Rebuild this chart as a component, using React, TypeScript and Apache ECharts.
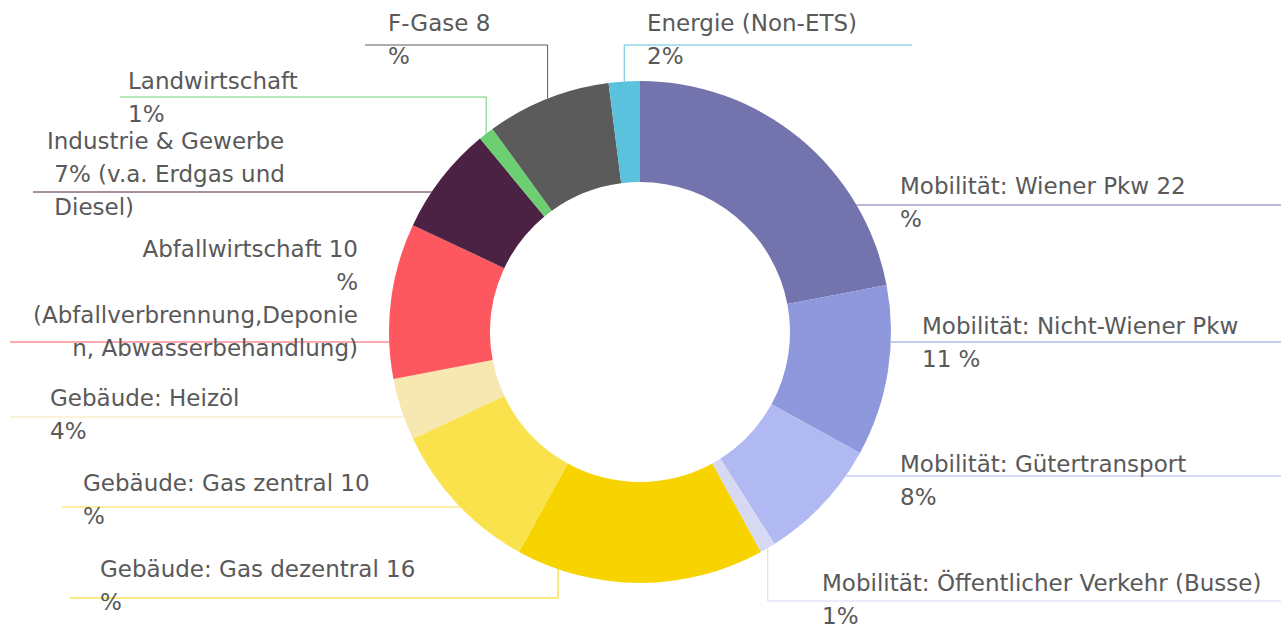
import React, { useEffect, useRef } from "react";
import * as echarts from "echarts";

// ---- data ----
const categories = [
  "Mobilität: Wiener Pkw",
  "Mobilität: Nicht-Wiener Pkw",
  "Mobilität: Gütertransport",
  "Mobilität: Öffentlicher Verkehr (Busse)",
  "Gebäude: Gas dezentral",
  "Gebäude: Gas zentral",
  "Gebäude: Heizöl",
  "Abfallwirtschaft",
  "Industrie & Gewerbe",
  "Landwirtschaft",
  "F-Gase",
  "Energie (Non-ETS)",
];
const values = [22, 11, 8, 1, 16, 10, 4, 10, 7, 1, 8, 2];
const labelTemplates = [
  "{n} {v}\n%",
  "{n}\n{v} %",
  "{n}\n{v}%",
  "{n}\n{v}%",
  "{n} {v}\n%",
  "{n} {v}\n%",
  "{n}\n{v}%",
  "{n} {v}\n%\n(Abfallverbrennung,Deponie\nn, Abwasserbehandlung)",
  "{n}\n {v}% (v.a. Erdgas und\n Diesel)",
  "{n}\n{v}%",
  "{n} {v}\n%",
  "{n}\n{v}%",
];
const colors = [
  "#7373ad",
  "#8f98dc",
  "#b1b9f3",
  "#d7d9f2",
  "#f7d400",
  "#fae24c",
  "#f6e8b0",
  "#fd5760",
  "#4b2144",
  "#6ccf72",
  "#5b5b5b",
  "#5bc2de",
];

// ---- layout (label placement) ----
const CX = 640;
const CY = 332;
const R = 251;
const R0 = 150;
type L = { x: number; y: number; align: string; lineY: number; kind: "h" | "v"; end: number; side: "l" | "r"; vx?: number };
const labelLayouts: L[] = [
  { x: 900, y: 169, align: "left", lineY: 205, kind: "h", end: 1281, side: "r" },
  { x: 922, y: 309, align: "left", lineY: 342, kind: "h", end: 1281, side: "r" },
  { x: 900, y: 447, align: "left", lineY: 476, kind: "h", end: 1281, side: "r" },
  { x: 822, y: 566, align: "left", lineY: 601, kind: "v", end: 1281, side: "r" },
  { x: 100, y: 552, align: "left", lineY: 598, kind: "v", end: 70, side: "l", vx: 558 },
  { x: 83, y: 466, align: "left", lineY: 507, kind: "h", end: 62, side: "l" },
  { x: 50, y: 381, align: "left", lineY: 417, kind: "h", end: 10, side: "l" },
  { x: 358, y: 232, align: "right", lineY: 342, kind: "h", end: 10, side: "l" },
  { x: 47, y: 124, align: "left", lineY: 192, kind: "h", end: 33, side: "l" },
  { x: 128, y: 64, align: "left", lineY: 97, kind: "v", end: 120, side: "l" },
  { x: 388, y: 6, align: "left", lineY: 45, kind: "v", end: 365, side: "l" },
  { x: 647, y: 6, align: "left", lineY: 45, kind: "v", end: 912, side: "r" },
];

export default function App() {
  const ref = useRef<HTMLDivElement>(null);
  useEffect(() => {
    if (!ref.current) return;
    const chart = echarts.init(ref.current, null, { renderer: "svg" });
    chart.setOption({
      animation: false,
      backgroundColor: "#ffffff",
      series: [
        {
          type: "pie",
          center: [CX, CY],
          radius: [R0, R],
          startAngle: 90,
          clockwise: true,
          avoidLabelOverlap: false,
          silent: true,
          data: categories.map((name, i) => ({
            name,
            value: values[i],
            itemStyle: { color: colors[i] },
            labelLine: { lineStyle: { color: colors[i] } },
          })),
          label: {
            show: true,
            position: "outside",
            color: "#595959",
            fontFamily: "DejaVu Sans",
            fontSize: 23,
            lineHeight: 33,
            formatter: (p: any) =>
              labelTemplates[p.dataIndex].replace("{n}", p.name).replace("{v}", String(p.value)),
          },
          labelLine: { show: true, length: 10, length2: 10, lineStyle: { width: 1 } },
          labelLayout: (params: any) => {
            const Lc = labelLayouts[params.dataIndex];
            const p0 = params.labelLinePoints ? params.labelLinePoints[0] : [CX, CY - R];
            let start: number[];
            if (Lc.kind === "h") {
              const dy = Lc.lineY - CY;
              const dx = Math.sqrt(Math.max(0, R * R - dy * dy));
              start = [Lc.side === "r" ? CX + dx : CX - dx, Lc.lineY];
            } else if (Lc.vx != null) {
              const dx = Lc.vx - CX;
              const dy = Math.sqrt(Math.max(0, R * R - dx * dx));
              start = [Lc.vx, Lc.lineY < CY ? CY - dy : CY + dy];
            } else {
              start = [p0[0], p0[1]];
            }
            return {
              x: Lc.x,
              y: Lc.y,
              align: Lc.align,
              verticalAlign: "top",
              labelLinePoints: [start, [start[0], Lc.lineY], [Lc.end, Lc.lineY]],
            };
          },
        },
      ],
    });
    return () => chart.dispose();
  }, []);
  return (
    <div
      ref={ref}
      style={{ position: "absolute", left: 0, top: 0, width: 1281, height: 628 }}
    />
  );
}
